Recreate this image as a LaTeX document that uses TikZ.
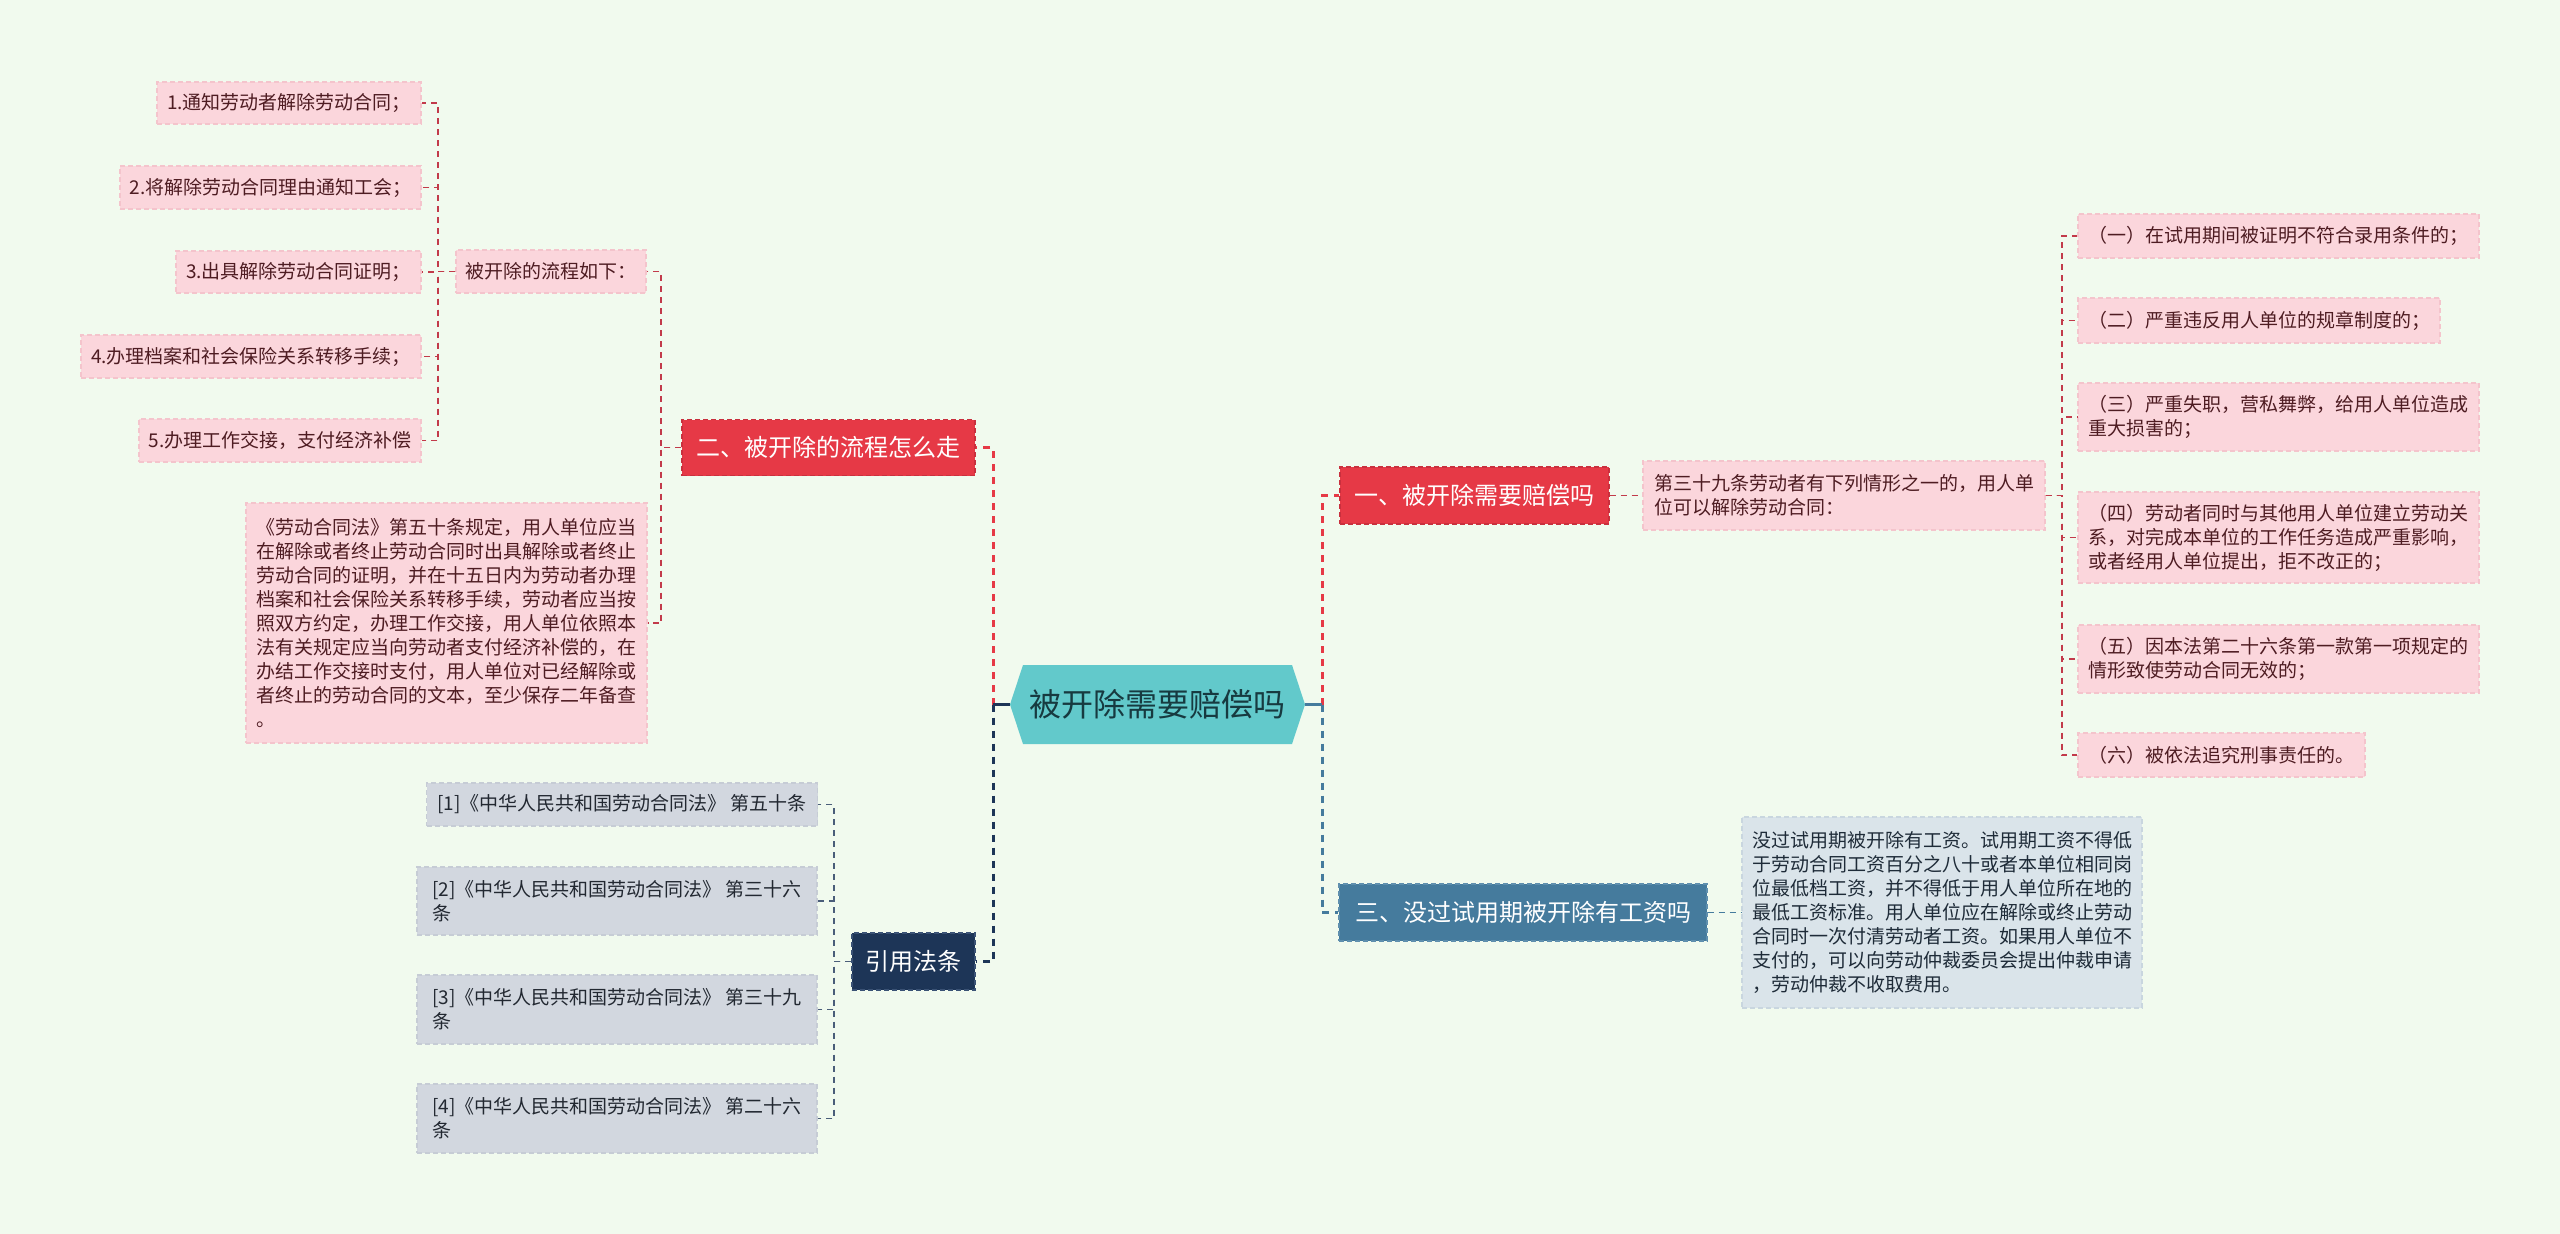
\documentclass[tikz,border=0pt]{standalone}
\usepackage{fontspec}
\setmainfont{Noto Sans CJK SC}
\definecolor{bg}{HTML}{F1FAEE}
\definecolor{cenfill}{HTML}{62C9CB}
\definecolor{centext}{HTML}{173A40}
\definecolor{red}{HTML}{E63946}
\definecolor{redline}{HTML}{C9303E}
\definecolor{redlink}{HTML}{C23A4A}
\definecolor{navy}{HTML}{1D3557}
\definecolor{navyline}{HTML}{3A5275}
\definecolor{steel}{HTML}{457B9D}
\definecolor{steelline}{HTML}{5F8FAE}
\definecolor{pinkfill}{HTML}{FBD6DC}
\definecolor{pinkline}{HTML}{F4C4CC}
\definecolor{pinktext}{HTML}{4E1C22}
\definecolor{grayfill}{HTML}{D2D7DF}
\definecolor{grayline}{HTML}{C6CCD5}
\definecolor{graytext}{HTML}{222831}
\definecolor{bluefill}{HTML}{DAE4EA}
\definecolor{blueline}{HTML}{C9D6DF}
\definecolor{bluetext}{HTML}{1E2B38}
\begin{document}
\begin{tikzpicture}[x=1pt,y=-1pt,
  boxdash/.style={dash pattern=on 5pt off 3pt, line width=1.3pt},
  leaf/.style={inner sep=0pt, align=left, font=\fontsize{19}{24}\selectfont, boxdash},
  leafpink/.style={leaf, fill=pinkfill, draw=pinkline, text=pinktext},
  leafgray/.style={leaf, fill=grayfill, draw=grayline, text=graytext},
  leafblue/.style={leaf, fill=bluefill, draw=blueline, text=bluetext},
  branch/.style={inner sep=0pt, font=\fontsize{24}{29}\selectfont, text=white, boxdash},
  brred/.style={branch, fill=red, draw=redline},
  brnavy/.style={branch, fill=navy, draw=navyline},
  brsteel/.style={branch, fill=steel, draw=steelline},
  cen/.style={inner sep=0pt, minimum width=295pt, minimum height=79pt,
    font=\fontsize{32}{38}\selectfont, text=centext,
    path picture={\fill[cenfill] (path picture bounding box.west)
      -- ([xshift=13pt]path picture bounding box.north west)
      -- ([xshift=-13pt]path picture bounding box.north east)
      -- (path picture bounding box.east)
      -- ([xshift=-13pt]path picture bounding box.south east)
      -- ([xshift=13pt]path picture bounding box.south west) -- cycle;}},
  solidnavy/.style={draw=navy, line width=3pt},
  solidsteel/.style={draw=steel, line width=3pt},
  trunkred/.style={draw=red, line width=3pt, dash pattern=on 7pt off 6pt},
  trunknavy/.style={draw=navy, line width=3pt, dash pattern=on 7pt off 6pt},
  trunksteel/.style={draw=steel, line width=3pt, dash pattern=on 7pt off 6pt},
  linkred/.style={draw=redlink, line width=1.8pt, dash pattern=on 6pt off 5pt},
  linknavy/.style={draw=navy!80, line width=1.8pt, dash pattern=on 6pt off 5pt},
  linksteel/.style={draw=steel, line width=1.8pt, dash pattern=on 6pt off 5pt}
]
\fill[bg] (0,0) rectangle (2560,1234);
\useasboundingbox (0,0) rectangle (2560,1234);

% central
\node[cen] (c) at (1157.5,704.5) {被开除需要赔偿吗};
\coordinate (jl) at (993,704.5);
\coordinate (jr) at (1322,704.5);

% branches
\node[brred, minimum width=293pt, minimum height=56pt] (b2) at (828.5,447.5) {二、被开除的流程怎么走};
\node[brnavy, minimum width=123pt, minimum height=57pt] (b4) at (913.5,961.5) {引用法条};
\node[brred, minimum width=269pt, minimum height=57pt] (b1) at (1474.5,495.5) {一、被开除需要赔偿吗};
\node[brsteel, minimum width=368pt, minimum height=57pt] (b3) at (1523,912.5) {三、没过试用期被开除有工资吗};

% left: process
\node[leafpink, minimum width=190pt, minimum height=43pt] (p0) at (551,271.5) {被开除的流程如下：};
\node[leafpink, minimum width=401pt, minimum height=240pt] (l) at (446.5,623) {《劳动合同法》第五十条规定，用人单位应当\\在解除或者终止劳动合同时出具解除或者终止\\劳动合同的证明，并在十五日内为劳动者办理\\档案和社会保险关系转移手续，劳动者应当按\\照双方约定，办理工作交接，用人单位依照本\\法有关规定应当向劳动者支付经济补偿的，在\\办结工作交接时支付，用人单位对已经解除或\\者终止的劳动合同的文本，至少保存二年备查\\。};
\node[leafpink, minimum width=264pt, minimum height=42pt] (p1) at (289,103) {1.通知劳动者解除劳动合同；};
\node[leafpink, minimum width=301pt, minimum height=43pt] (p2) at (270.5,187.5) {2.将解除劳动合同理由通知工会；};
\node[leafpink, minimum width=245pt, minimum height=42pt] (p3) at (298.5,272) {3.出具解除劳动合同证明；};
\node[leafpink, minimum width=340pt, minimum height=43pt] (p4) at (251,356.5) {4.办理档案和社会保险关系转移手续；};
\node[leafpink, minimum width=282pt, minimum height=43pt] (p5) at (280,440.5) {5.办理工作交接，支付经济补偿};

% left: references
\node[leafgray, minimum width=391pt, minimum height=43pt] (r1) at (622,804.5) {[1]《中华人民共和国劳动合同法》 第五十条};
\node[leafgray, minimum width=400pt, minimum height=68pt] (r2) at (617,901) {[2]《中华人民共和国劳动合同法》 第三十六\\条};
\node[leafgray, minimum width=400pt, minimum height=69pt] (r3) at (617,1009.5) {[3]《中华人民共和国劳动合同法》 第三十九\\条};
\node[leafgray, minimum width=400pt, minimum height=69pt] (r4) at (617,1118.5) {[4]《中华人民共和国劳动合同法》 第二十六\\条};

% right: 39
\node[leafpink, minimum width=402pt, minimum height=69pt] (q) at (1844,495.5) {第三十九条劳动者有下列情形之一的，用人单\\位可以解除劳动合同：};
\node[leafpink, minimum width=401pt, minimum height=44pt] (k1) at (2278.5,236) {（一）在试用期间被证明不符合录用条件的；};
\node[leafpink, minimum width=362pt, minimum height=45pt] (k2) at (2259,320.5) {（二）严重违反用人单位的规章制度的；};
\node[leafpink, minimum width=401pt, minimum height=68pt] (k3) at (2278.5,417) {（三）严重失职，营私舞弊，给用人单位造成\\重大损害的；};
\node[leafpink, minimum width=401pt, minimum height=91pt] (k4) at (2278.5,537.5) {（四）劳动者同时与其他用人单位建立劳动关\\系，对完成本单位的工作任务造成严重影响，\\或者经用人单位提出，拒不改正的；};
\node[leafpink, minimum width=401pt, minimum height=68pt] (k5) at (2278.5,659) {（五）因本法第二十六条第一款第一项规定的\\情形致使劳动合同无效的；};
\node[leafpink, minimum width=287pt, minimum height=44pt] (k6) at (2221.5,755) {（六）被依法追究刑事责任的。};

% right: salary
\node[leafblue, minimum width=400pt, minimum height=191pt] (s) at (1942,912.5) {没过试用期被开除有工资。试用期工资不得低\\于劳动合同工资百分之八十或者本单位相同岗\\位最低档工资，并不得低于用人单位所在地的\\最低工资标准。用人单位应在解除或终止劳动\\合同时一次付清劳动者工资。如果用人单位不\\支付的，可以向劳动仲裁委员会提出仲裁申请\\，劳动仲裁不收取费用。};

% connectors: centre to branches
\draw[trunkred] (jl) |- (b2.east);
\draw[trunknavy] (jl) |- (b4.east);
\draw[solidnavy] (c.west) -- (jl);
\draw[trunkred] (jr) |- (b1.west);
\draw[trunksteel] (jr) |- (b3.west);
\draw[solidsteel] (c.east) -- (jr);

% connectors: leaves
\draw[linkred] (b2.west) -- ++(-20,0) |- (p0.east);
\draw[linkred] (b2.west) -- ++(-20,0) |- (l.east);
\foreach \i in {1,...,5} \draw[linkred] (p0.west) -- ++(-17,0) |- (p\i.east);
\foreach \i in {1,...,4} \draw[linknavy] (b4.west) -- ++(-17,0) |- (r\i.east);
\draw[linkred] (b1.east) -- (q.west);
\foreach \i in {1,...,6} \draw[linkred] (q.east) -- ++(16,0) |- (k\i.west);
\draw[linksteel] (b3.east) -- (s.west);
\end{tikzpicture}
\end{document}
